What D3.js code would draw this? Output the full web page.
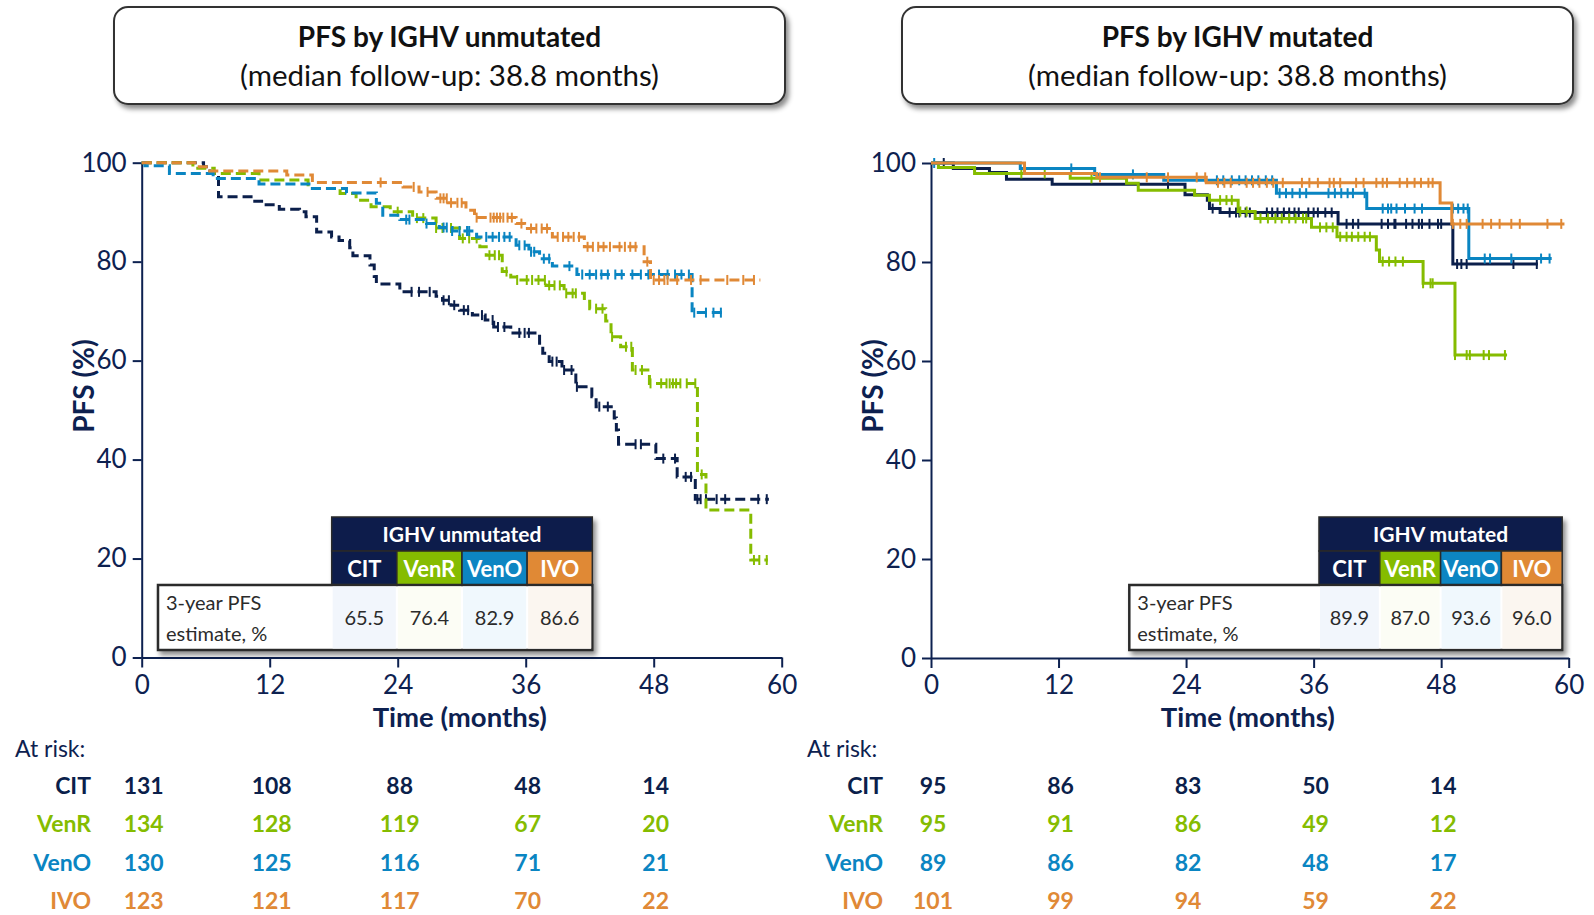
<!DOCTYPE html>
<html>
<head>
<meta charset="utf-8">
<script src="https://cdn.jsdelivr.net/npm/d3@7"></script>
<style>
body { margin: 0; background: #fff; }
svg { display: block; font-family: Lato, "Open Sans", sans-serif; }
</style>
</head>
<body>
<div id="chart"></div>
<script>
// ---- data ----
var groups = ["CIT", "VenR", "VenO", "IVO"];
var xTicks = [0, 12, 24, 36, 48, 60];
var yTicks = [0, 20, 40, 60, 80, 100];
var riskTimes = [0, 12, 24, 36, 48];

// IGHV unmutated: KM steps [month, PFS %], last point = end of follow-up
var unmutCIT = [[0,100],[5.8,99.2],[6.4,97.8],[7.2,93.1],[10.6,92.2],[11.5,91.5],[12.9,90.6],[14.8,90.1],[15.4,89.1],[16.4,86.0],[17.8,85.0],[18.5,84.3],[19.5,82.8],[19.8,81.2],[21.4,79.3],[21.8,77.0],[22.0,75.5],[24.2,73.9],[27.6,73.0],[28.2,72.2],[29.0,71.2],[29.8,70.2],[31.0,69.2],[32.2,68.2],[33.0,66.8],[34.6,65.6],[37.3,63.5],[37.6,61.5],[38.2,59.8],[39.4,58.1],[40.7,54.7],[42.2,52.7],[42.6,50.7],[44.3,48.4],[44.5,46.0],[44.7,43.1],[48.2,40.2],[50.2,36.5],[51.9,32.0],[58.8,32.0]];
var unmutVenR = [[0,100],[4.8,98.9],[6.8,97.8],[11.0,96.5],[15.6,94.8],[18.6,93.8],[20.1,92.4],[21.5,91.1],[23.3,90.1],[25.4,88.8],[27.6,86.8],[29.8,84.7],[31.7,83.0],[32.3,81.3],[33.8,78.0],[34.6,76.9],[35.1,76.3],[37.9,75.2],[39.6,73.6],[41.5,72.0],[42.0,70.5],[43.5,68.0],[44.0,64.8],[44.9,62.8],[46.0,58.1],[47.6,55.4],[52.1,37.0],[52.9,29.8],[57.1,19.7],[58.7,19.7]];
var unmutVenO = [[0,100],[0.3,99.4],[2.6,97.8],[6.7,96.8],[11.0,95.7],[16.0,94.8],[19.2,93.9],[22.0,91.8],[22.6,89.4],[24.2,88.5],[26.7,87.7],[27.9,86.9],[29.1,86.2],[31.4,85.0],[35.1,83.3],[36.3,82.0],[37.3,80.6],[38.5,79.1],[40.8,77.4],[51.6,69.7],[54.6,69.7]];
var unmutIVO = [[0,100],[5.0,99.2],[6.2,98.3],[13.6,97.5],[16.0,96.0],[24.5,95.1],[26.0,94.1],[27.6,92.8],[28.7,91.9],[30.4,90.4],[31.2,88.9],[35.1,87.7],[35.9,86.7],[38.5,85.0],[41.5,83.0],[47.1,80.0],[47.7,76.3],[58.0,76.3]];

var unmutCITCens = [25.3,26.0,27.0,28.3,28.8,29.3,30.2,30.6,31.9,32.9,33.4,34.0,35.4,35.9,36.3,38.5,38.9,39.6,40.3,40.8,42.9,43.7,46.3,46.8,48.9,50.0,51.0,51.5,52.1,52.4,52.9,53.9,54.7,57.8,58.6];
var unmutVenRCens = [24.0,25.8,26.4,27.6,28.2,29.0,30.1,30.7,31.4,32.6,33.1,33.5,34.2,35.2,36.1,36.6,37.2,37.8,38.2,38.7,39.2,39.8,40.4,40.7,42.6,43.2,44.1,45.4,45.9,46.3,46.9,47.7,48.7,49.2,49.5,49.8,50.1,50.5,51.1,51.9,52.5,57.4,57.9,58.6];
var unmutVenOCens = [24.8,25.1,26.7,28.3,28.6,29.1,29.8,30.5,30.7,32.3,32.9,33.5,34.0,34.5,35.4,35.9,36.5,36.8,37.7,38.2,40.1,41.3,42.0,42.6,43.1,43.7,44.4,45.0,46.0,46.8,47.5,48.5,49.3,50.0,50.6,51.3,51.8,52.9,53.6,54.3];
var unmutIVOCens = [22.4,25.5,26.8,28.0,28.3,28.6,29.0,29.6,30.0,31.4,32.7,33.0,33.3,33.6,33.9,34.3,34.7,35.6,36.5,37.0,37.5,38.0,39.0,39.5,40.0,40.5,41.0,41.8,42.3,42.8,43.3,43.9,44.8,45.3,45.8,46.3,47.4,48.0,48.5,49.0,49.3,50.2,51.5,52.4,54.9,56.4,57.4];

// IGHV mutated
var mutCIT = [[0,100],[2.1,98.9],[5.5,98.1],[7.1,96.7],[11.4,95.7],[23.9,93.6],[26.0,92.5],[26.2,90.8],[27.2,90.0],[38.3,87.7],[49.1,79.6],[57.1,79.6]];
var mutVenR = [[0,100],[0.7,99.1],[4.1,97.9],[13.1,96.9],[18.4,95.9],[19.5,94.5],[24.8,93.5],[26.2,92.5],[28.9,90.2],[30.5,88.8],[35.8,87.0],[38.2,85.1],[41.9,82.4],[42.2,80.1],[46.3,75.7],[49.3,61.2],[54.2,61.2]];
var mutVenO = [[0,100],[8.4,98.9],[15.4,97.7],[21.9,96.5],[32.5,93.9],[41.0,90.8],[50.6,80.7],[58.4,80.7]];
var mutIVO = [[0,100],[8.8,97.9],[15.6,97.1],[25.9,96.0],[47.9,91.9],[49.0,87.7],[59.6,87.7]];

var mutCITCens = [1.2,22.3,26.5,28.1,28.7,29.0,29.6,30.0,31.6,32.1,32.6,33.2,33.7,34.2,34.6,35.5,36.0,36.4,37.1,37.7,39.1,39.7,40.2,42.4,43.0,43.6,43.7,44.7,45.3,45.9,46.2,46.9,47.7,48.0,49.5,49.9,50.4,54.8,57.0];
var mutVenRCens = [8.5,10.7,15.1,27.2,27.8,28.3,29.1,29.7,31.0,31.7,32.4,33.0,33.7,34.3,35.0,35.3,36.6,37.2,37.8,38.5,39.1,39.6,40.2,40.8,41.3,42.5,43.1,43.7,44.4,46.3,47.0,47.2,49.3,50.4,50.7,52.0,52.5,54.0];
var mutVenOCens = [0.3,13.2,19.0,26.9,27.5,28.3,29.0,29.6,30.2,30.8,31.5,32.1,32.8,33.4,34.0,34.7,35.3,37.4,38.0,38.6,39.2,39.7,40.8,42.5,43.0,43.3,43.8,44.6,45.5,46.2,49.1,49.6,50.1,50.5,52.1,52.6,54.6,57.4,58.2];
var mutIVOCens = [15.9,20.3,22.3,25.0,25.8,27.0,27.6,28.2,29.7,30.3,30.9,31.6,32.2,33.1,34.9,35.6,36.4,37.5,37.9,38.5,40.0,40.7,41.9,42.5,42.9,44.1,44.8,45.5,46.1,46.8,47.2,49.1,49.8,50.4,51.9,52.7,53.5,54.6,55.4,58.0,59.3];

var unmutAtRisk = [[131,108,88,48,14],[134,128,119,67,20],[130,125,116,71,21],[123,121,117,70,22]];
var mutAtRisk = [[95,86,83,50,14],[95,91,86,49,12],[89,86,82,48,17],[101,99,94,59,22]];

var unmutPfs3y = ["65.5", "76.4", "82.9", "86.6"];
var mutPfs3y = ["89.9", "87.0", "93.6", "96.0"];

// ---- styles ----
var colors = ["#0b1f4b", "#85bc00", "#0a85c2", "#e08936"];
var tints = ["#f2f6fc", "#fcfdf5", "#f0f8fd", "#fbf6f0"];
var navy = "#0d2150";

var svg = d3.select("#chart")
    .append("svg")
    .attr("width", 1594)
    .attr("height", 915);

var defs = svg.append("defs");
defs.append("filter")
    .attr("id", "shadow")
    .attr("x", "-5%").attr("y", "-10%")
    .attr("width", "115%").attr("height", "130%")
    .append("feDropShadow")
    .attr("dx", 3).attr("dy", 4)
    .attr("stdDeviation", 2.5)
    .attr("flood-color", "#000")
    .attr("flood-opacity", 0.45);

function survAt(steps, t) {
    var p = steps[0][1];
    steps.forEach(function(s) { if (s[0] <= t) p = s[1]; });
    return p;
}

function styleAxis(g) {
    g.select(".domain").attr("stroke", navy).attr("stroke-width", 2);
    g.selectAll(".tick line").attr("stroke", navy).attr("stroke-width", 2);
    g.selectAll(".tick text")
        .attr("fill", navy)
        .attr("font-size", 26)
        .attr("font-family", "Lato, sans-serif");
}

function drawPanel(cfg) {
    var x = d3.scaleLinear().domain([0, 60]).range([cfg.left, cfg.right]);
    var y = d3.scaleLinear().domain([0, 100]).range([cfg.bottom, cfg.top]);
    var g = svg.append("g");

    // title box
    var tb = g.append("g");
    tb.append("rect")
        .attr("x", cfg.boxX).attr("y", 7)
        .attr("width", 671).attr("height", 97)
        .attr("rx", 14)
        .attr("fill", "#fff")
        .attr("stroke", "#333")
        .attr("stroke-width", 2)
        .attr("filter", "url(#shadow)");
    tb.append("text")
        .attr("x", cfg.boxX + 335.5).attr("y", 47)
        .attr("text-anchor", "middle")
        .attr("font-size", 28).attr("font-weight", "bold")
        .attr("fill", "#111")
        .text(cfg.title);
    tb.append("text")
        .attr("x", cfg.boxX + 335.5).attr("y", 86)
        .attr("text-anchor", "middle")
        .attr("font-size", 29.5)
        .attr("fill", "#111")
        .text("(median follow-up: 38.8 months)");

    // axes
    g.append("g")
        .attr("transform", `translate(0, ${cfg.bottom})`)
        .call(d3.axisBottom(x).tickValues(xTicks).tickSize(10).tickPadding(8).tickSizeOuter(0))
        .call(styleAxis);
    g.append("g")
        .attr("transform", `translate(${cfg.left}, 0)`)
        .call(d3.axisLeft(y).tickValues(yTicks).tickSize(9).tickPadding(6).tickSizeOuter(0))
        .call(styleAxis);

    g.append("text")
        .attr("x", (cfg.left + cfg.right) / 2 - 2)
        .attr("y", 727)
        .attr("text-anchor", "middle")
        .attr("font-size", 27.5).attr("font-weight", "bold")
        .attr("fill", navy)
        .text("Time (months)");
    g.append("text")
        .attr("transform", `translate(${cfg.left - 48}, 386) rotate(-90)`)
        .attr("text-anchor", "middle")
        .attr("font-size", 28).attr("font-weight", "bold")
        .attr("fill", navy)
        .text("PFS (%)");

    // curves
    var line = d3.line()
        .x(d => x(d[0]))
        .y(d => y(d[1]))
        .curve(d3.curveStepAfter);

    cfg.curves.forEach(function(steps, i) {
        g.append("path")
            .datum(steps)
            .attr("d", line)
            .attr("fill", "none")
            .attr("stroke", colors[i])
            .attr("stroke-width", 3)
            .attr("stroke-dasharray", cfg.dashed ? "10,5" : null);
        g.selectAll(null)
            .data(cfg.censors[i])
            .enter()
            .append("line")
            .attr("x1", d => x(d)).attr("x2", d => x(d))
            .attr("y1", d => y(survAt(steps, d)) - 5)
            .attr("y2", d => y(survAt(steps, d)) + 5)
            .attr("stroke", colors[i])
            .attr("stroke-width", 2);
    });

    // 3-year PFS table
    var t = g.append("g");
    var cw = cfg.colW, hx = cfg.headX;
    t.append("rect")
        .attr("x", cfg.tabX).attr("y", 517)
        .attr("width", hx - cfg.tabX).attr("height", 68)
        .attr("fill", "#fff");
    var tg = t.append("g").attr("filter", "url(#shadow)");
    tg.append("rect")
        .attr("x", hx).attr("y", 517)
        .attr("width", cw * 4).attr("height", 34)
        .attr("fill", colors[0])
        .attr("stroke", "#2a2a2a").attr("stroke-width", 1.5);
    groups.forEach(function(gr, i) {
        tg.append("rect")
            .attr("x", hx + i * cw).attr("y", 551)
            .attr("width", cw).attr("height", 34)
            .attr("fill", colors[i])
            .attr("stroke", "#2a2a2a").attr("stroke-width", 1.5);
    });
    tg.append("rect")
        .attr("x", cfg.tabX).attr("y", 585)
        .attr("width", hx + cw * 4 - cfg.tabX).attr("height", 65)
        .attr("fill", "#fff")
        .attr("stroke", "#2a2a2a").attr("stroke-width", 2.5);
    groups.forEach(function(gr, i) {
        t.append("rect")
            .attr("x", hx + i * cw + 1).attr("y", 586.5)
            .attr("width", cw - 2).attr("height", 62)
            .attr("fill", tints[i]);
        t.append("text")
            .attr("x", hx + i * cw + cw / 2).attr("y", 577)
            .attr("text-anchor", "middle")
            .attr("font-size", 22).attr("font-weight", "bold")
            .attr("fill", "#fff")
            .text(gr);
        t.append("text")
            .attr("x", hx + i * cw + cw / 2).attr("y", 625)
            .attr("text-anchor", "middle")
            .attr("font-size", 20)
            .attr("fill", "#2b2b2b")
            .text(cfg.pfs3y[i]);
    });
    t.append("text")
        .attr("x", hx + cw * 2).attr("y", 542)
        .attr("text-anchor", "middle")
        .attr("font-size", 21).attr("font-weight", "bold")
        .attr("fill", "#fff")
        .text(cfg.tableTitle);
    t.append("text")
        .attr("x", cfg.tabX + 8).attr("y", 610)
        .attr("font-size", 20).attr("fill", "#2b2b2b")
        .text("3-year PFS");
    t.append("text")
        .attr("x", cfg.tabX + 8).attr("y", 641)
        .attr("font-size", 20).attr("fill", "#2b2b2b")
        .text("estimate, %");

    // at risk
    g.append("text")
        .attr("x", cfg.riskLabelX - 76).attr("y", 757)
        .attr("font-size", 23).attr("fill", navy)
        .text("At risk:");
    groups.forEach(function(gr, i) {
        var yy = 794 + i * 38.3;
        g.append("text")
            .attr("x", cfg.riskLabelX).attr("y", yy)
            .attr("text-anchor", "end")
            .attr("font-size", 23).attr("font-weight", "bold")
            .attr("fill", colors[i])
            .text(gr);
        g.selectAll(null)
            .data(cfg.atRisk[i])
            .enter()
            .append("text")
            .attr("x", (d, k) => x(riskTimes[k]) + 2)
            .attr("y", yy)
            .attr("text-anchor", "middle")
            .attr("font-size", 23).attr("font-weight", "bold")
            .attr("fill", colors[i])
            .text(d => d);
    });
}

drawPanel({
    left: 141.7, right: 781.7, top: 162.7, bottom: 657.5,
    boxX: 114, title: "PFS by IGHV unmutated",
    dashed: true,
    curves: [unmutCIT, unmutVenR, unmutVenO, unmutIVO],
    censors: [unmutCITCens, unmutVenRCens, unmutVenOCens, unmutIVOCens],
    tabX: 158, headX: 331.7, colW: 65.15,
    tableTitle: "IGHV unmutated", pfs3y: unmutPfs3y,
    atRisk: unmutAtRisk, riskLabelX: 91
});

drawPanel({
    left: 931, right: 1568.7, top: 163, bottom: 658,
    boxX: 902, title: "PFS by IGHV mutated",
    dashed: false,
    curves: [mutCIT, mutVenR, mutVenO, mutIVO],
    censors: [mutCITCens, mutVenRCens, mutVenOCens, mutIVOCens],
    tabX: 1129.3, headX: 1319, colW: 60.8,
    tableTitle: "IGHV mutated", pfs3y: mutPfs3y,
    atRisk: mutAtRisk, riskLabelX: 883
});
</script>
</body>
</html>
